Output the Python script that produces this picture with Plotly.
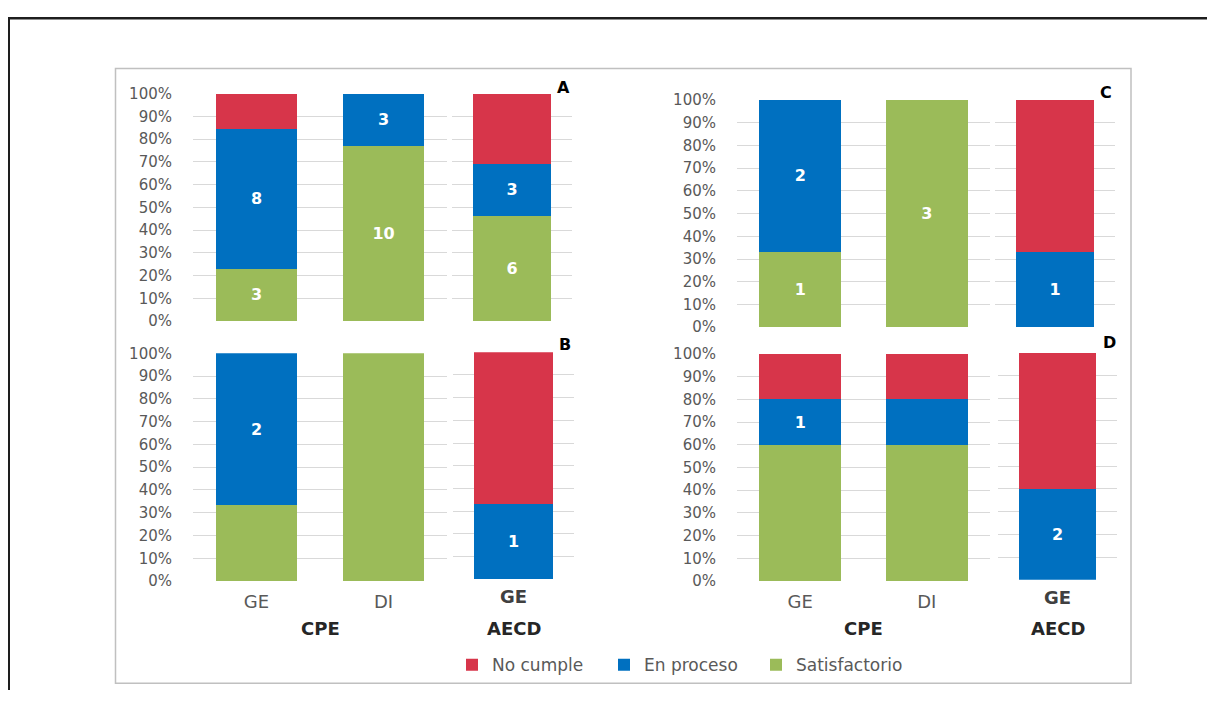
import plotly.graph_objects as go

# ---------------- data ----------------
panels = ["A", "B", "C", "D"]
cpe_categories = ["GE", "DI"]
aecd_categories = ["GE"]
status_names = ["Satisfactorio", "En proceso", "No cumple"]  # stacking order bottom -> top

# counts (CPE: GE, DI)
cpe_satisfactorio = {"A": [3, 10], "B": [1, 3], "C": [1, 3], "D": [3, 3]}
cpe_en_proceso = {"A": [8, 3], "B": [2, 0], "C": [2, 0], "D": [1, 1]}
cpe_no_cumple = {"A": [2, 0], "B": [0, 0], "C": [0, 0], "D": [1, 1]}

# counts (AECD: GE)
aecd_satisfactorio = {"A": [6], "B": [0], "C": [0], "D": [0]}
aecd_en_proceso = {"A": [3], "B": [1], "C": [1], "D": [2]}
aecd_no_cumple = {"A": [4], "B": [2], "C": [2], "D": [3]}

# which segments carry a visible data label (1 = shown)
cpe_sat_label = {"A": [1, 1], "B": [0, 0], "C": [1, 1], "D": [0, 0]}
cpe_proc_label = {"A": [1, 1], "B": [1, 0], "C": [1, 0], "D": [1, 0]}
cpe_nc_label = {"A": [0, 0], "B": [0, 0], "C": [0, 0], "D": [0, 0]}
aecd_sat_label = {"A": [1], "B": [0], "C": [0], "D": [0]}
aecd_proc_label = {"A": [1], "B": [1], "C": [1], "D": [1]}
aecd_nc_label = {"A": [0], "B": [0], "C": [0], "D": [0]}

y_tick_values = [0, 10, 20, 30, 40, 50, 60, 70, 80, 90, 100]
y_tick_labels = ["0%", "10%", "20%", "30%", "40%", "50%", "60%", "70%", "80%", "90%", "100%"]
group_labels = ["CPE", "AECD"]

# ---------------- styling / geometry ----------------
colors = {"Satisfactorio": "#9BBB59", "En proceso": "#0070C0", "No cumple": "#D7354A"}
FONT = "DejaVu Sans"
W, H = 1199, 691
OFFX = 8
OFFY, SY = 17.1, 0.972


def px(x):
    return (x - OFFX) / W


def py(y):
    return 1 - ((y - OFFY) / SY) / H


# page-pixel layout of each panel: (cpe x0, cpe x1, aecd x0, aecd x1, cpe y top, cpe y bottom, aecd y top, aecd y bottom)
geom = {
    "A": (193, 447, 452, 572, 93.5, 320.5, 93.5, 320.5),
    "B": (193, 447, 453, 574, 352.7, 580, 351.7, 578.3),
    "C": (737, 990, 995, 1115, 100, 326.7, 100, 326.7),
    "D": (737, 990, 998, 1117, 353.3, 580, 352, 578.7),
}
letter_pos = {"A": (563, 87.5), "B": (565, 343.5), "C": (1106, 92.5), "D": (1109, 341.5)}
bottom_panels = {"B", "D"}

fig = go.Figure()
layout_axes = {}
annotations = []

ax = 0
for p in panels:
    gx = geom[p]
    groups = [
        (cpe_categories, [cpe_satisfactorio[p], cpe_en_proceso[p], cpe_no_cumple[p]],
         [cpe_sat_label[p], cpe_proc_label[p], cpe_nc_label[p]], gx[0], gx[1], gx[4], gx[5], True),
        (aecd_categories, [aecd_satisfactorio[p], aecd_en_proceso[p], aecd_no_cumple[p]],
         [aecd_sat_label[p], aecd_proc_label[p], aecd_nc_label[p]], gx[2], gx[3], gx[6], gx[7], False),
    ]
    for gi, (cats, vals, labs, x0, x1, yt, yb, is_cpe) in enumerate(groups):
        ax += 1
        sfx = "" if ax == 1 else str(ax)
        for si, name in enumerate(status_names):
            texts = [str(v) if show else "" for v, show in zip(vals[si], labs[si])]
            fig.add_trace(go.Bar(
                x=cats, y=vals[si], name=name,
                marker=dict(color=colors[name], line=dict(width=0)),
                width=0.645,
                text=texts, texttemplate="%{text}",
                textposition="inside", insidetextanchor="middle",
                textangle=0,
                textfont=dict(family=FONT, size=16, color="white", weight="bold"),
                showlegend=(ax == 1),
                legendgroup=name,
                xaxis="x" + sfx, yaxis="y" + sfx,
                hoverinfo="skip",
            ))
        show_x = p in bottom_panels
        if is_cpe:
            ticktext = cats
            tcolor = "#595959"
            standoff = 8
        else:
            ticktext = ["<b>" + c + "</b>" for c in cats]
            tcolor = "#404040"
            standoff = 5
        layout_axes["xaxis" + sfx] = dict(
            domain=[px(x0), px(x1)], anchor="y" + sfx, type="category",
            range=[-0.5, len(cats) - 0.5], showgrid=False, zeroline=False, showline=False,
            ticks="", showticklabels=show_x,
            tickvals=cats, ticktext=ticktext,
            tickfont=dict(family=FONT, size=18, color=tcolor),
            ticklabelstandoff=standoff,
            fixedrange=True,
        )
        layout_axes["yaxis" + sfx] = dict(
            domain=[py(yb), py(yt)], anchor="x" + sfx,
            range=[0, 100], tickvals=y_tick_values, ticktext=y_tick_labels,
            showgrid=True, gridcolor="#D9D9D9", gridwidth=1,
            zeroline=False, showline=False, ticks="",
            showticklabels=is_cpe,
            tickfont=dict(family=FONT, size=15, color="#595959"),
            ticklabelstandoff=20,
            fixedrange=True,
        )
        if show_x:
            annotations.append(dict(
                text=group_labels[0] if is_cpe else group_labels[1],
                x=px((x0 + x1) / 2), y=py(627), xref="paper", yref="paper",
                xanchor="center", yanchor="middle", showarrow=False,
                font=dict(family=FONT, size=18, color="#262626", weight="bold"),
            ))
    lx, ly = letter_pos[p]
    annotations.append(dict(
        text="<b>" + p + "</b>", x=px(lx), y=py(ly), xref="paper", yref="paper",
        xanchor="center", yanchor="middle", showarrow=False,
        font=dict(family=FONT, size=16, color="#000000"),
    ))

shapes = [
    # inner chart box
    dict(type="rect", xref="paper", yref="paper", x0=px(115.5), x1=px(1131), y0=py(682), y1=py(68.5),
         line=dict(color="#C0C0C0", width=1.5), fillcolor="rgba(0,0,0,0)", layer="below"),
    # outer dark frame (top and left edges)
    dict(type="rect", xref="paper", yref="paper", x0=0, x1=1, y0=1 - 2.5 / H, y1=1,
         line=dict(width=0), fillcolor="#1E1E1E"),
    dict(type="rect", xref="paper", yref="paper", x0=0, x1=2 / W, y0=0, y1=1,
         line=dict(width=0), fillcolor="#1E1E1E"),
]

fig.update_layout(
    width=W, height=H, autosize=False,
    margin=dict(l=0, r=0, t=0, b=0, pad=0),
    paper_bgcolor="white", plot_bgcolor="white",
    barmode="stack", barnorm="percent",
    font=dict(family=FONT, color="#595959"),
    legend=dict(
        orientation="h", traceorder="reversed",
        x=px(452), xanchor="left", y=py(664), yanchor="middle",
        font=dict(family=FONT, size=17, color="#595959"),
        entrywidth=107, bgcolor="rgba(0,0,0,0)",
        itemclick=False, itemdoubleclick=False,
    ),
    annotations=annotations,
    shapes=shapes,
    **layout_axes,
)

fig.write_html("out.html")
